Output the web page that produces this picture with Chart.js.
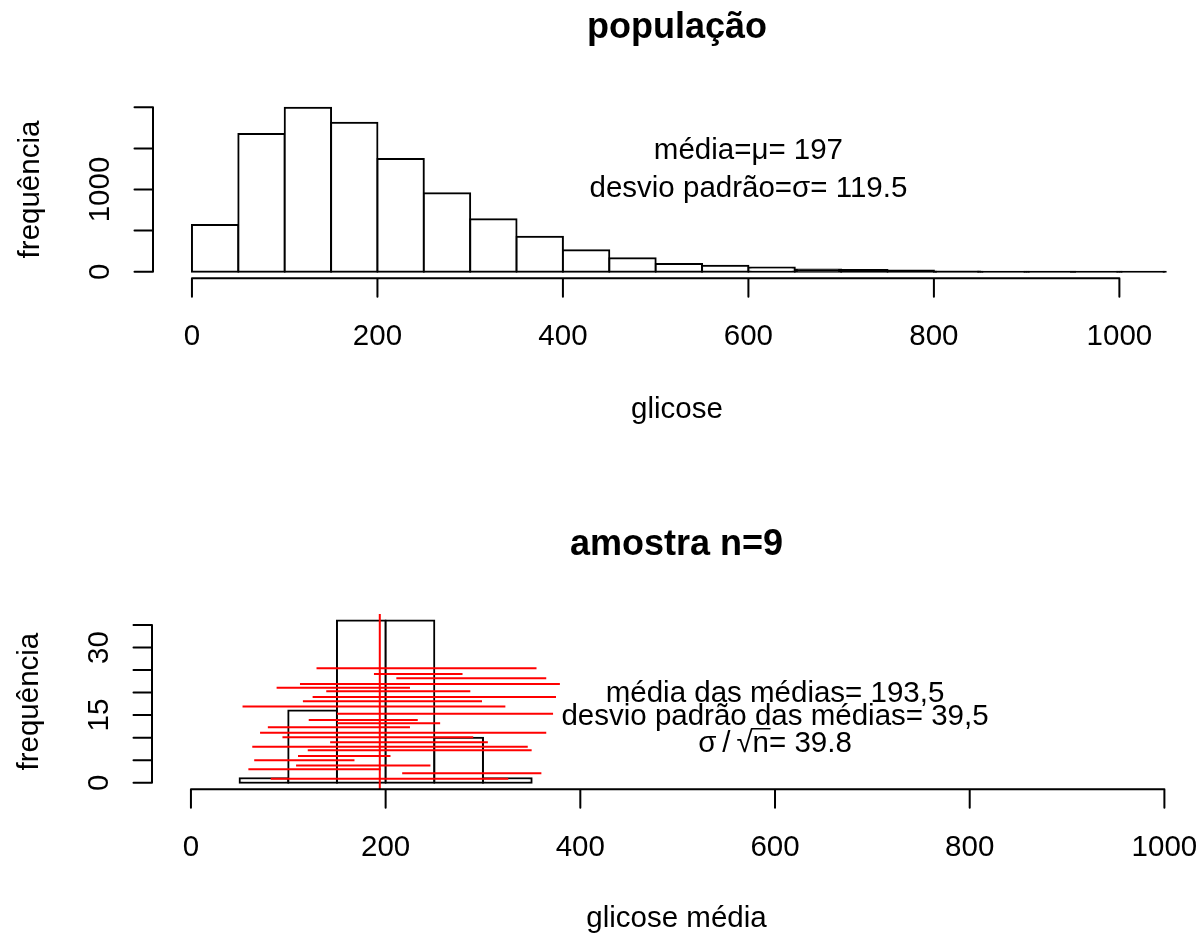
<!DOCTYPE html>
<html>
<head>
<meta charset="utf-8">
<title>população / amostra n=9</title>
<script src="https://cdn.jsdelivr.net/npm/chart.js@4/dist/chart.umd.min.js"></script>
<style>
  html, body { margin: 0; padding: 0; background: #fff; }
  #wrap { position: relative; width: 1201px; height: 935px; }
  #wrap canvas { position: absolute; left: 0; top: 0; }
</style>
</head>
<body>
<div id="wrap">
  <canvas id="popChart" width="1201" height="935"></canvas>
  <canvas id="sampleChart" width="1201" height="935"></canvas>
</div>
<script>
// --- população: glicose, classes de 50 ---
const binWidth = 50;
const popBinStarts = [0, 50, 100, 150, 200, 250, 300, 350, 400, 450, 500,
                      550, 600, 650, 700, 750, 800, 850, 900, 950, 1000];
const popCounts = [568, 1675, 1995, 1813, 1371, 953, 637, 426, 260, 163, 95,
                   74, 50, 26, 20, 15, 2, 1, 1, 1, 1];
const popXTicks = [0, 200, 400, 600, 800, 1000];
const popYTicks = [0, 500, 1000, 1500, 2000];
const popYLabels = ['0', '', '1000', '', ''];

// --- amostra n=9: médias das amostras ---
const sampleBinStarts = [50, 100, 150, 200, 250, 300];
const sampleCounts = [1, 16, 36, 36, 10, 1];
const sampleXTicks = [0, 200, 400, 600, 800, 1000];
const sampleYTicks = [0, 5, 10, 15, 20, 25, 30, 35];
const sampleYLabels = ['0', '', '', '15', '', '', '30', ''];

// intervalos (segmentos vermelhos) e linha da média
const ciLevel = [25.4, 24.1, 23.2, 21.9, 21.1, 20.3, 19.0, 18.1, 16.9, 15.3, 13.9, 13.2,
                 12.3, 11.1, 10.1, 9.0, 8.0, 7.2, 5.9, 5.0, 3.8, 3.0, 2.1, 0.9];
const ciLow  = [129, 188, 211, 112, 88, 139, 125, 115, 53, 150, 121, 150,
                79, 71, 94, 143, 63, 120, 110, 65, 108, 59, 217, 82];
const ciHigh = [355, 279, 365, 379, 225, 287, 375, 299, 323, 372, 233, 256,
                225, 365, 290, 305, 346, 350, 205, 168, 246, 195, 360, 326];
const muLine = 194;

const FONT = '"Liberation Sans", Arial, sans-serif';
const FS = 29.5;
const TICK = 18.5;
const LINE = 2;

function histData(starts, counts) {
  return starts.map((s, i) => ({ x: s + binWidth / 2, y: counts[i] }));
}

// bars thinner than their outline come out as a solid black band, as in R
function barFill(c) {
  if (c.type !== 'data' || !c.raw) return '#ffffff';
  const y = c.chart.scales.y;
  const h = Math.abs(y.getPixelForValue(0) - y.getPixelForValue(c.raw.y));
  return h < 2 * LINE ? '#000000' : '#ffffff';
}

function histDataset(starts, counts) {
  return {
    type: 'bar',
    data: histData(starts, counts),
    backgroundColor: barFill,
    borderColor: '#000000',
    borderWidth: LINE,
    borderSkipped: false,
    inflateAmount: LINE / 2,
    barPercentage: 1,
    categoryPercentage: 1,
    grouped: false,
    order: 3
  };
}

// R-like axes, labels and texts, placed through the chart scales
const rAxes = {
  id: 'rAxes',
  afterDraw(chart, args, o) {
    const { ctx, chartArea: a, scales: { x, y } } = chart;
    ctx.save();
    ctx.strokeStyle = '#000';
    ctx.fillStyle = '#000';
    ctx.lineWidth = LINE;
    ctx.lineCap = 'round';

    const xs = o.xTicks.map(v => x.getPixelForValue(v));
    const ys = o.yTicks.map(v => y.getPixelForValue(v));
    ctx.beginPath();
    ctx.moveTo(xs[0], a.bottom);
    ctx.lineTo(xs[xs.length - 1], a.bottom);
    xs.forEach(px => { ctx.moveTo(px, a.bottom); ctx.lineTo(px, a.bottom + TICK); });
    ctx.moveTo(a.left, ys[0]);
    ctx.lineTo(a.left, ys[ys.length - 1]);
    ys.forEach(py => { ctx.moveTo(a.left, py); ctx.lineTo(a.left - TICK, py); });
    ctx.stroke();

    ctx.font = FS + 'px ' + FONT;
    ctx.textAlign = 'center';
    ctx.textBaseline = 'alphabetic';
    o.xTicks.forEach((v, i) => ctx.fillText(String(v), xs[i], a.bottom + 66.7));
    ys.forEach((py, i) => {
      if (!o.yLabels[i]) return;
      ctx.save();
      ctx.translate(a.left - 44.5, py);
      ctx.rotate(-Math.PI / 2);
      ctx.fillText(o.yLabels[i], 0, 0);
      ctx.restore();
    });

    const cx = (a.left + a.right) / 2;
    ctx.fillText(o.xTitle, cx, a.bottom + o.xTitleGap);
    ctx.save();
    ctx.translate(a.left - 114.5, (a.top + a.bottom) / 2);
    ctx.rotate(-Math.PI / 2);
    ctx.fillText(o.yTitle, 0, 0);
    ctx.restore();

    o.notes.forEach(n => {
      const px = x.getPixelForValue(n.x);
      const py = y.getPixelForValue(n.y) + 0.358 * FS;
      ctx.fillText(n.text, px, py);
      if (n.overline) {
        // vinculum of the square root over "n"
        const w = ctx.measureText(n.text).width;
        const pre = ctx.measureText(n.text.slice(0, n.text.indexOf('n'))).width;
        const nw = ctx.measureText('n').width;
        const left = px - w / 2 + pre;
        ctx.lineWidth = 1.5;
        ctx.beginPath();
        ctx.moveTo(left - 1, py - 0.8 * FS);
        ctx.lineTo(left + nw + 1, py - 0.8 * FS);
        ctx.stroke();
      }
    });

    ctx.font = 'bold 36px ' + FONT;
    ctx.fillText(o.title, cx, a.top - o.titleGap);
    ctx.restore();
  }
};

function baseOptions(pad, xr, yr, panel) {
  return {
    responsive: false,
    animation: false,
    devicePixelRatio: 1,
    events: [],
    layout: { padding: pad },
    scales: {
      x: { type: 'linear', display: false, offset: false, min: xr[0], max: xr[1],
           ticks: { stepSize: 200, includeBounds: false } },
      y: { type: 'linear', display: false, min: yr[0], max: yr[1],
           ticks: { includeBounds: false } }
    },
    plugins: {
      legend: { display: false },
      tooltip: { enabled: false },
      title: { display: false },
      rAxes: panel
    }
  };
}

// top panel
new Chart(document.getElementById('popChart'), {
  type: 'bar',
  data: { datasets: [histDataset(popBinStarts, popCounts)] },
  options: baseOptions(
    { left: 153, top: 100.7, right: 0, bottom: 656.7 },
    [-42, 1088], [-80, 2080],
    {
      xTicks: popXTicks, yTicks: popYTicks, yLabels: popYLabels,
      title: 'população', xTitle: 'glicose', yTitle: 'frequência',
      titleGap: 62.7, xTitleGap: 140,
      notes: [
        { x: 600, y: 1500, text: 'média=μ= 197' },
        { x: 600, y: 1040, text: 'desvio padrão=σ= 119.5' }
      ]
    }),
  plugins: [rAxes]
});

// bottom panel
const sampleY = [-1.44, 37.44];
const ciPoints = [];
ciLevel.forEach((lv, i) => {
  ciPoints.push({ x: ciLow[i], y: lv }, { x: ciHigh[i], y: lv }, { x: ciHigh[i], y: null });
});

new Chart(document.getElementById('sampleChart'), {
  type: 'bar',
  data: {
    datasets: [
      histDataset(sampleBinStarts, sampleCounts),
      {
        type: 'line',
        data: ciPoints,
        borderColor: '#ff0000',
        borderWidth: 2,
        pointRadius: 0,
        spanGaps: false,
        tension: 0,
        order: 2
      },
      {
        type: 'line',
        data: [{ x: muLine, y: sampleY[0] }, { x: muLine, y: sampleY[1] }],
        borderColor: '#ff0000',
        borderWidth: 2,
        pointRadius: 0,
        order: 1
      }
    ]
  },
  options: baseOptions(
    { left: 152, top: 614, right: 0, bottom: 145.8 },
    [-40, 1037.6], sampleY,
    {
      xTicks: sampleXTicks, yTicks: sampleYTicks, yLabels: sampleYLabels,
      title: 'amostra n=9', xTitle: 'glicose média', yTitle: 'frequência',
      titleGap: 59, xTitleGap: 137.5,
      notes: [
        { x: 600, y: 20.3, text: 'média das médias= 193,5' },
        { x: 600, y: 15.2, text: 'desvio padrão das médias= 39,5' },
        { x: 600, y: 9.1, text: 'σ\u2009/\u2009√n= 39.8', overline: true }
      ]
    }),
  plugins: [rAxes]
});
</script>
</body>
</html>
